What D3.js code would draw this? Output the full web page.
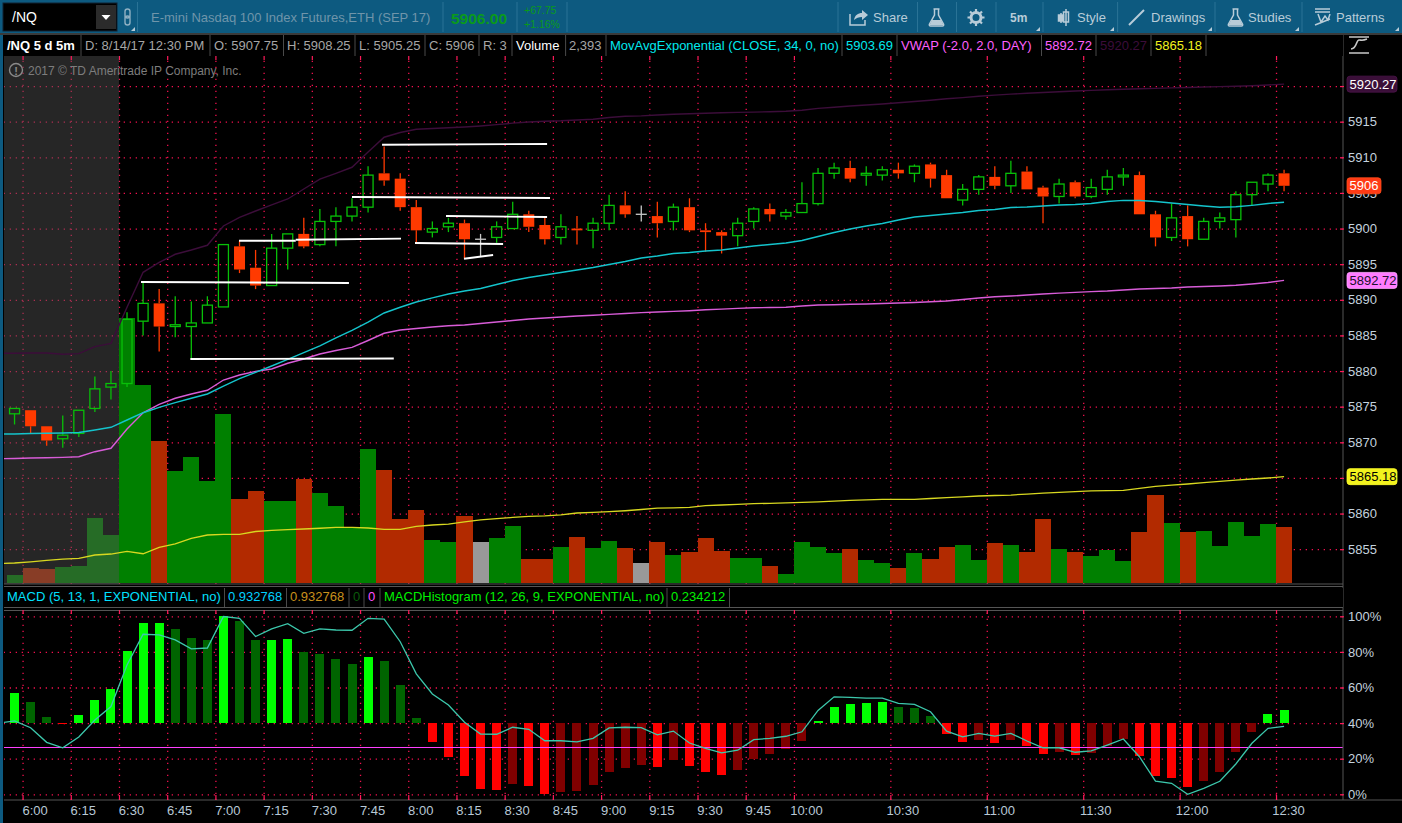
<!DOCTYPE html>
<html>
<head>
<meta charset="utf-8">
<title>/NQ 5 d 5m</title>
<script src="https://cdn.jsdelivr.net/npm/d3@7"></script>
<style>
html, body { margin: 0; padding: 0; background: #000; overflow: hidden; }
svg { display: block; font-family: "Liberation Sans", Arial, sans-serif; }
</style>
</head>
<body>
<svg id="chart" width="1402" height="823"></svg>
<script>
// 5 minute bars, 5:55 to 12:30
var times = ["5:55","6:00","6:05","6:10","6:15","6:20","6:25","6:30","6:35","6:40",
"6:45","6:50","6:55","7:00","7:05","7:10","7:15","7:20","7:25","7:30",
"7:35","7:40","7:45","7:50","7:55","8:00","8:05","8:10","8:15","8:20",
"8:25","8:30","8:35","8:40","8:45","8:50","8:55","9:00","9:05","9:10",
"9:15","9:20","9:25","9:30","9:35","9:40","9:45","9:50","9:55","10:00",
"10:05","10:10","10:15","10:20","10:25","10:30","10:35","10:40","10:45","10:50",
"10:55","11:00","11:05","11:10","11:15","11:20","11:25","11:30","11:35","11:40",
"11:45","11:50","11:55","12:00","12:05","12:10","12:15","12:20","12:25","12:30"];
var timeTicks = ["6:00","6:15","6:30","6:45","7:00","7:15","7:30","7:45","8:00","8:15","8:30","8:45",
"9:00","9:15","9:30","9:45","10:00","10:30","11:00","11:30","12:00","12:30"];
var priceTicks = [5855,5860,5865,5870,5875,5880,5885,5890,5895,5900,5905,5910,5915,5920];
// 5865 and 5920 sit fully behind the last value bubbles
var priceLabelTicks = [5855,5860,5870,5875,5880,5885,5890,5895,5900,5905,5910,5915];
var percentTicks = [0,20,40,60,80,100];

var open = [5874,5874.5,5872.25,5870.5,5871.25,5874.75,5877.75,5878.25,5887,5889.5,
5886.25,5886.25,5886.75,5889,5897.5,5894.5,5892,5897.25,5899.25,5897.75,
5901,5901.75,5903,5907.75,5907,5903,5899.5,5900.25,5900.75,5898.5,
5898.75,5900,5902,5900.5,5898.75,5900,5899.75,5900.75,5903.25,5902,
5901.75,5901,5903,5899.75,5899.5,5899,5901,5902.75,5901.75,5902.25,
5903.5,5907.75,5908.5,5907.5,5907.5,5908.25,5907.75,5909,5907.5,5904,
5905.5,5907.25,5906,5908,5905.75,5904.5,5906.5,5904.5,5905.5,5907.25,
5907.5,5902,5898.75,5901.75,5898.5,5901,5901.25,5904.75,5906.25,5907.75];
var high = [5874.75,5874.5,5872.25,5873.75,5874.5,5879.25,5880,5888.25,5892.5,5891.5,
5890.5,5889.75,5890.5,5897.75,5898.25,5897,5899.25,5899.25,5901.5,5902.75,
5903,5904.25,5908.75,5911.5,5907.75,5904,5901,5901.5,5901.25,5899.25,
5901,5903.75,5902.5,5901.5,5902,5901.75,5901.5,5904.75,5905.25,5903.25,
5903.75,5903.5,5904.25,5900.75,5899.75,5901.5,5903,5903.5,5902.75,5906.5,
5908.5,5909.25,5909.5,5908.75,5908.75,5909.25,5909,5909.25,5908.25,5906.25,
5907.5,5908.75,5909.5,5908.75,5906,5907,5906.75,5907,5908.25,5908.5,
5908,5902.5,5903.5,5903.25,5901.5,5902.25,5905.25,5906.5,5907.75,5908.25];
var low = [5872.5,5871.25,5869.5,5869.25,5870.75,5874.25,5876,5877.75,5885,5882.75,
5884.75,5881.75,5886.75,5889,5893.75,5891.5,5892,5894.25,5897.25,5897.5,
5897.5,5901,5902.25,5906,5902.5,5898,5898.75,5899.5,5895.75,5896,
5898,5900,5899.5,5897.75,5897.75,5897.75,5897.25,5899.75,5901.5,5901,
5898.75,5899.75,5899.5,5896.75,5896.5,5897.5,5900,5901,5901.25,5902.25,
5903.25,5907,5906.5,5906,5906.75,5907,5906.5,5905.75,5904.25,5903.25,
5904.75,5905.5,5905,5905.5,5900.75,5903.5,5904.25,5904.25,5904.75,5906,
5902,5897.5,5898.25,5897.5,5898.5,5900,5898.75,5903.25,5905.25,5905.25];
var close = [5874.75,5872.25,5870.25,5871,5874.5,5877.5,5878.25,5887.25,5889.5,5886.25,
5886.5,5886.75,5889.25,5897.75,5894.25,5892,5897.25,5899.25,5897.5,5901,
5901.75,5903,5907.5,5906.75,5903,5899.75,5900,5900.75,5898.5,5898.5,
5900.25,5902,5900.25,5898.5,5900.25,5899.75,5900.75,5903.25,5902,5902,
5900.75,5903,5899.75,5899.5,5899,5900.75,5902.75,5902,5902.25,5903.5,
5907.75,5908.5,5907,5907.75,5908.25,5907.75,5908.75,5907,5904.25,5905.5,
5907.25,5906,5907.75,5905.5,5904.5,5906.25,5904.5,5905.75,5907.25,5907.5,
5902,5898.75,5901.5,5898.5,5901,5901.5,5904.75,5906.5,5907.5,5906];
var volume = [340,640,600,680,725,2780,2050,11320,8460,6070,
4790,5380,4360,7220,3590,3930,3500,3500,4440,3850,
3290,2390,5730,4830,2730,3120,1840,1750,2860,1750,
1920,2440,1030,1030,1540,1970,1500,1790,1500,855,
1750,1200,1320,1920,1370,1070,1070,725,385,1750,
1540,1280,1450,980,855,640,1280,1030,1540,1620,
980,1710,1620,1320,2730,1450,1320,1150,1410,940,
2180,3760,2560,2180,2220,1580,2600,2010,2520,2393];

// study lines start one bar earlier, that bar is cut off by the left edge
var ema = [5871.15,5871.17,5871.24,5871.26,5871.31,5871.38,5871.73,5872.11,5873.13,5874.15,5874.91,
5875.56,5876.18,5876.78,5877.90,5878.93,5879.82,5880.71,5881.65,5882.58,5883.52,
5884.64,5885.72,5886.88,5888.15,5888.95,5889.69,5890.28,5890.81,5891.24,5891.59,
5892.15,5892.71,5893.13,5893.48,5893.83,5894.18,5894.53,5894.95,5895.38,5895.87,
5896.15,5896.50,5896.64,5896.85,5896.99,5897.27,5897.55,5897.76,5897.97,5898.32,
5898.88,5899.45,5899.94,5900.36,5900.71,5901.20,5901.62,5901.83,5902.04,5902.25,
5902.53,5902.67,5902.95,5903.02,5903.16,5903.30,5903.38,5903.52,5903.80,5903.96,
5903.94,5903.80,5903.59,5903.38,5903.16,5902.98,5903.05,5903.26,5903.52,5903.69];
var vwap = [5867.70,5867.73,5867.80,5867.84,5867.89,5867.98,5868.68,5869.16,5871.87,5874.15,5875.33,
5876.18,5876.78,5877.30,5878.74,5879.45,5879.96,5880.29,5881.09,5881.69,5882.39,
5882.88,5883.33,5884.29,5885.30,5885.76,5885.97,5886.18,5886.35,5886.46,5886.67,
5886.88,5887.09,5887.31,5887.45,5887.59,5887.73,5887.84,5887.95,5888.08,5888.20,
5888.29,5888.37,5888.47,5888.60,5888.69,5888.79,5888.88,5888.92,5888.96,5889.13,
5889.27,5889.31,5889.37,5889.41,5889.48,5889.55,5889.62,5889.72,5889.83,5890.04,
5890.25,5890.42,5890.53,5890.67,5890.81,5890.93,5891.04,5891.15,5891.24,5891.38,
5891.52,5891.59,5891.66,5891.80,5891.87,5891.94,5892.05,5892.22,5892.43,5892.72];
var upperBand = [5882.49,5882.50,5882.53,5882.53,5882.35,5882.44,5883.42,5883.89,5888.95,5893.86,5895.26,
5896.39,5896.99,5897.65,5900.36,5901.58,5902.46,5903.31,5904.15,5905.55,5906.95,
5907.75,5908.60,5910.74,5912.82,5913.48,5913.93,5914.04,5914.15,5914.25,5914.39,
5914.58,5914.79,5914.95,5915.05,5915.12,5915.24,5915.35,5915.59,5915.77,5915.82,
5915.94,5916.05,5916.12,5916.19,5916.25,5916.30,5916.34,5916.40,5916.47,5916.60,
5916.86,5917.03,5917.20,5917.34,5917.48,5917.65,5917.83,5918.01,5918.21,5918.38,
5918.56,5918.72,5918.86,5918.98,5919.09,5919.21,5919.31,5919.40,5919.49,5919.56,
5919.63,5919.68,5919.74,5919.80,5919.87,5919.92,5919.98,5920.05,5920.15,5920.27];
var lowerBand = [5852.96,5853.06,5853.23,5853.44,5853.60,5853.72,5854.18,5854.32,5854.70,5854.36,5855.24,
5855.73,5856.50,5856.99,5857.09,5857.09,5857.48,5857.65,5857.73,5857.83,5857.94,
5858.07,5858.07,5857.97,5857.79,5857.79,5858.21,5858.39,5858.53,5858.82,5859.10,
5859.28,5859.45,5859.59,5859.66,5859.80,5860.08,5860.16,5860.26,5860.39,5860.57,
5860.75,5860.79,5860.86,5861.10,5861.20,5861.30,5861.38,5861.44,5861.49,5861.56,
5861.65,5861.75,5861.85,5861.92,5861.99,5862.00,5862.00,5862.11,5862.24,5862.35,
5862.46,5862.53,5862.60,5862.74,5862.86,5862.98,5863.09,5863.17,5863.21,5863.25,
5863.52,5863.81,5863.98,5864.15,5864.33,5864.51,5864.70,5864.85,5864.99,5865.18];
var macd = [1.08,1.17,.87,.22,-.02,.46,1.21,1.81,3.66,5.02,4.99,
4.77,4.37,4.41,5.81,5.73,4.92,5.26,5.49,5.06,5.26,
5.21,5.20,5.73,5.69,4.69,3.26,2.37,1.88,1.11,.59,
.58,.89,.80,.29,.29,.24,.40,.86,.89,.87,
.55,.72,.19,-.05,-.25,-.13,.34,.40,.49,.69,
1.64,2.24,2.22,2.18,2.18,1.95,1.91,1.58,.72,.46,
.62,.50,.62,.28,-.02,-.02,-.22,-.16,.10,.37,
-.42,-1.50,-1.60,-2.09,-1.82,-1.51,-.74,.18,.84,.932768];
var macdHist = [.54,.38,.11,-.01,.14,.41,.61,1.30,1.80,1.81,
1.69,1.53,1.50,1.93,1.84,1.49,1.50,1.51,1.28,1.24,
1.15,1.06,1.19,1.12,.68,.09,-.34,-.61,-.95,-1.19,
-1.21,-1.10,-1.14,-1.28,-1.24,-1.23,-1.12,-.88,-.81,-.76,
-.79,-.67,-.77,-.88,-.94,-.85,-.65,-.56,-.47,-.32,
.04,.29,.34,.36,.37,.29,.27,.13,-.20,-.34,
-.31,-.36,-.31,-.41,-.56,-.52,-.58,-.54,-.41,-.29,
-.59,-.95,-.99,-1.15,-1.05,-.88,-.52,-.16,.16,.234212];

// hand drawn trend lines: bar number and price at each end
var drawnFromBar = [22.87,21,13.97,17.5,7.87,10.94,24.92,26.85,27.97];
var drawnFromPrice = [5911.77,5904.43,5898.29,5898.43,5892.5,5881.69,5897.97,5901.76,5895.77];
var drawnToBar = [33.14,33.32,17.5,24.05,20.81,23.6,30.4,33.14,29.78];
var drawnToPrice = [5911.87,5904.29,5898.29,5898.58,5892.36,5881.76,5897.83,5901.62,5896.29];

var lastBar = {vwap: 5892.72, upper: 5920.27, lower: 5865.18, close: 5906};

var plotLeft = 4, plotRight = 1343, mainTop = 56, mainBottom = 584, macdTop = 611, macdBottom = 800;
var green = "#08c008", red = "#ff3a00", grid = "#f0104e";

var svg = d3.select("#chart");
var defs = svg.append("defs");
defs.append("clipPath").attr("id", "mainClip").append("rect")
  .attr("x", plotLeft).attr("y", mainTop).attr("width", plotRight - plotLeft).attr("height", mainBottom - mainTop);
defs.append("clipPath").attr("id", "macdClip").append("rect")
  .attr("x", plotLeft).attr("y", macdTop).attr("width", plotRight - plotLeft).attr("height", macdBottom - macdTop);

var allTimes = ["5:50"].concat(times);
var x = d3.scaleBand().domain(allTimes).range([-9.57, 1292.1]);
function cx(t) { return x(t) + x.bandwidth() / 2; }
function barX(i) { return x(times[0]) + x.bandwidth() / 2 + i * x.step(); }
var y = d3.scaleLinear().domain([5870, 5910]).range([442.3, 157.3]);
var yVol = d3.scaleLinear().domain([0, 2393]).range([583, 527]);
var yPct = d3.scaleLinear().domain([0, 100]).range([794.3, 616.3]);
var yMacd = d3.scaleLinear().domain([0, 0.932768]).range([747.3, 726.3]);
var yHist = d3.scaleLinear().domain([0, 0.234212]).range([723, 710]);

function text(g, px, py, s, fill, size, opts) {
  opts = opts || {};
  return g.append("text").attr("x", px).attr("y", py).text(s).attr("fill", fill)
    .attr("font-size", size).attr("font-weight", opts.bold ? "bold" : null)
    .attr("text-anchor", opts.anchor || null);
}

// ---- grids
function styleGrid(g) {
  g.select(".domain").remove();
  g.selectAll("text").remove();
  g.selectAll("line").attr("stroke", grid).attr("stroke-width", 1.3).attr("stroke-dasharray", "1.3,4.7");
}
// ticks sit on the left edge of a bar, so the axes get the band edge and not its middle
var timeAxisScale = function(t) { return x(t); };
timeAxisScale.domain = function() { return timeTicks; };
timeAxisScale.range = function() { return [plotLeft, plotRight]; };
timeAxisScale.copy = function() { return timeAxisScale; };

svg.append("g").attr("transform", "translate(0," + mainBottom + ")")
  .call(d3.axisBottom(timeAxisScale).tickValues(timeTicks).tickSize(-(mainBottom - mainTop)).tickSizeOuter(0)).call(styleGrid);
svg.append("g").attr("transform", "translate(0," + macdBottom + ")")
  .call(d3.axisBottom(timeAxisScale).tickValues(timeTicks).tickSize(-(macdBottom - macdTop)).tickSizeOuter(0)).call(styleGrid);
svg.append("g").attr("transform", "translate(" + plotRight + ",0)")
  .call(d3.axisLeft(y).tickValues(priceTicks).tickSize(plotRight - plotLeft).tickSizeOuter(0)).call(styleGrid);
svg.append("g").attr("transform", "translate(" + plotRight + ",0)")
  .call(d3.axisLeft(yPct).tickValues(percentTicks).tickSize(plotRight - plotLeft).tickSizeOuter(0)).call(styleGrid);

// ---- volume
var main = svg.append("g").attr("clip-path", "url(#mainClip)");
function barColor(i) {
  if (close[i] > open[i]) return "#008000";
  if (close[i] < open[i]) return "#b22a00";
  return "#999999";
}
main.append("g").attr("shape-rendering", "crispEdges").selectAll("rect").data(times).enter().append("rect")
  .attr("x", function(d) { return x(d); })
  .attr("y", function(d, i) { return yVol(volume[i]); })
  .attr("width", x.bandwidth())
  .attr("height", function(d, i) { return yVol(0) - yVol(volume[i]); })
  .attr("fill", function(d, i) { return barColor(i); });

// expansion area shade sits over the volume bars
main.append("rect").attr("x", plotLeft).attr("y", mainTop)
  .attr("width", x("6:30") - plotLeft).attr("height", mainBottom - mainTop)
  .attr("fill", "rgb(84,84,84)").attr("fill-opacity", 0.45);

// ---- candles
var candles = main.append("g").selectAll("g").data(times).enter().append("g");
candles.each(function(d, i) {
  var g = d3.select(this), c = cx(d);
  var up = close[i] > open[i], flat = close[i] === open[i];
  var col = flat ? "#c8c8c8" : (up ? green : red);
  var bodyTop = y(Math.max(open[i], close[i])), bodyBottom = y(Math.min(open[i], close[i]));
  g.append("line").attr("x1", c).attr("x2", c).attr("y1", y(high[i])).attr("y2", bodyTop)
    .attr("stroke", col).attr("stroke-width", 1.3);
  g.append("line").attr("x1", c).attr("x2", c).attr("y1", bodyBottom).attr("y2", y(low[i]))
    .attr("stroke", col).attr("stroke-width", 1.3);
  if (flat) {
    g.append("line").attr("x1", c - 5.5).attr("x2", c + 5.5).attr("y1", bodyTop).attr("y2", bodyTop)
      .attr("stroke", col).attr("stroke-width", 1.3);
  } else if (up) {
    g.append("rect").attr("x", c - 5).attr("y", bodyTop).attr("width", 10).attr("height", bodyBottom - bodyTop)
      .attr("fill", "none").attr("stroke", col).attr("stroke-width", 1.3);
  } else {
    g.append("rect").attr("x", c - 5.5).attr("y", bodyTop).attr("width", 11).attr("height", bodyBottom - bodyTop)
      .attr("fill", col);
  }
});

// ---- price studies
function studyLine(g, values, scale, color, width) {
  var line = d3.line().x(function(d, i) { return cx(allTimes[i]); }).y(function(d) { return scale(d); });
  g.append("path").datum(values).attr("d", line).attr("fill", "none")
    .attr("stroke", color).attr("stroke-width", width);
}
studyLine(main, upperBand, y, "#3c0d3a", 1.4);
studyLine(main, lowerBand, y, "#d8d820", 1.3);
studyLine(main, vwap, y, "#d85cd8", 1.4);
studyLine(main, ema, y, "#14c4cc", 1.4);

// ---- drawings
main.append("g").selectAll("line").data(drawnFromBar).enter().append("line")
  .attr("x1", function(d) { return barX(d); })
  .attr("y1", function(d, i) { return y(drawnFromPrice[i]); })
  .attr("x2", function(d, i) { return barX(drawnToBar[i]); })
  .attr("y2", function(d, i) { return y(drawnToPrice[i]); })
  .attr("stroke", "#ffffff").attr("stroke-width", 1.9);

// ---- macd panel
var lower = svg.append("g").attr("clip-path", "url(#macdClip)");
function histColor(i) {
  var prev = i > 0 ? macdHist[i - 1] : 0, v = macdHist[i];
  if (v >= 0) return v > prev ? "#00ff00" : "#006400";
  return v < prev ? "#ff0000" : "#800000";
}
lower.append("g").attr("shape-rendering", "crispEdges").selectAll("rect").data(times).enter().append("rect")
  .attr("x", function(d) { return cx(d) - 4.5; })
  .attr("y", function(d, i) { return Math.min(yHist(0), yHist(macdHist[i])); })
  .attr("width", 9)
  .attr("height", function(d, i) { return Math.max(1, Math.abs(yHist(macdHist[i]) - yHist(0))); })
  .attr("fill", function(d, i) { return histColor(i); });
lower.append("line").attr("x1", plotLeft).attr("x2", plotRight).attr("y1", yMacd(0)).attr("y2", yMacd(0))
  .attr("stroke", "#ff40ff").attr("stroke-width", 1.1).attr("shape-rendering", "crispEdges");
studyLine(lower, macd, yMacd, "#3cc8ac", 1.3);

// ---- frame and axes
var frame = svg.append("g").attr("stroke", "#555").attr("fill", "none");
frame.append("line").attr("x1", plotRight).attr("x2", plotRight).attr("y1", 34).attr("y2", macdBottom);
frame.append("line").attr("x1", plotLeft).attr("x2", plotRight).attr("y1", 584).attr("y2", 584);
frame.append("line").attr("x1", plotLeft).attr("x2", plotRight).attr("y1", 586.5).attr("y2", 586.5);
frame.append("line").attr("x1", plotLeft).attr("x2", plotRight).attr("y1", 607.5).attr("y2", 607.5);
frame.append("line").attr("x1", plotLeft).attr("x2", plotRight).attr("y1", macdTop - .5).attr("y2", macdTop - .5);
frame.append("line").attr("x1", plotLeft).attr("x2", 1402).attr("y1", macdBottom).attr("y2", macdBottom);

function styleValueAxis(g) {
  g.select(".domain").remove();
  g.selectAll("line").attr("stroke", "#ff1a5a").attr("stroke-width", 1.2);
  g.selectAll("text").attr("fill", "#c4d2de").attr("font-size", 13)
    .attr("font-family", '"Liberation Sans", Arial, sans-serif');
}
svg.append("g").attr("transform", "translate(" + (plotRight + 1) + ",0)")
  .call(d3.axisRight(y).tickValues(priceTicks).tickSize(-4).tickSizeOuter(0).tickFormat(function() { return ""; }))
  .call(styleValueAxis);
svg.append("g").attr("transform", "translate(" + (plotRight + 1) + ",0)")
  .call(d3.axisRight(y).tickValues(priceLabelTicks).tickSize(0).tickSizeOuter(0).tickFormat(d3.format("d")))
  .call(styleValueAxis).selectAll("text").attr("x", 4);
svg.append("g").attr("transform", "translate(" + (plotRight + 1) + ",0)")
  .call(d3.axisRight(yPct).tickValues(percentTicks).tickSize(-4).tickSizeOuter(0).tickFormat(function(d) { return d + "%"; }))
  .call(styleValueAxis).selectAll("text").attr("x", 4);

function shortMarks(g) {
  g.select(".domain").remove();
  g.selectAll("line").attr("stroke", "#ff1a5a").attr("stroke-width", 1.2);
  g.selectAll("text").remove();
}
svg.append("g").attr("transform", "translate(0," + (mainTop + 4) + ")")
  .call(d3.axisBottom(timeAxisScale).tickValues(timeTicks).tickSize(-4).tickSizeOuter(0)).call(shortMarks);
svg.append("g").attr("transform", "translate(0," + (macdTop + 3) + ")")
  .call(d3.axisBottom(timeAxisScale).tickValues(timeTicks).tickSize(-4).tickSizeOuter(0)).call(shortMarks);
var timeAxis = svg.append("g").attr("transform", "translate(0," + macdBottom + ")")
  .call(d3.axisBottom(timeAxisScale).tickValues(timeTicks).tickSize(-5).tickPadding(6).tickSizeOuter(0));
timeAxis.select(".domain").remove();
timeAxis.selectAll("line").attr("stroke", "#ff1a5a").attr("stroke-width", 1.2);
timeAxis.selectAll("text").attr("dx", 12).attr("fill", "#b8c8d6").attr("font-size", 13)
  .attr("font-family", '"Liberation Sans", Arial, sans-serif');

// last value bubbles
function bubble(price, label, fill, color, width) {
  var g = svg.append("g");
  g.append("rect").attr("x", plotRight + 4).attr("y", y(price) - 8).attr("width", width).attr("height", 16)
    .attr("rx", 3).attr("fill", fill).attr("stroke", d3.color(fill).brighter(0.8)).attr("stroke-width", .8);
  text(g, plotRight + 6.5, y(price) + 4.5, label, color, 13);
}
bubble(lastBar.upper, "5920.27", "#3a0f38", "#ffffff", 50);
bubble(lastBar.lower, "5865.18", "#f2f21e", "#000000", 50);
bubble(lastBar.vwap, "5892.72", "#ff7cff", "#20102a", 50);
bubble(lastBar.close, "5906", "#ff3a14", "#ffffff", 34);

// ---- legend rows
function legendRow(top, bottom, seps, items, endX) {
  var g = svg.append("g");
  g.append("rect").attr("x", plotLeft).attr("y", top).attr("width", endX - plotLeft).attr("height", bottom - top).attr("fill", "#000");
  g.append("g").selectAll("line").data(seps).enter().append("line")
    .attr("x1", function(d) { return d; }).attr("x2", function(d) { return d; })
    .attr("y1", top).attr("y2", bottom).attr("stroke", "#4a4a4a");
  items.forEach(function(t) { text(g, t[0], bottom - 6, t[1], t[2], 13, {bold: t[3]}); });
}
legendRow(34.5, 56, [81,210,283.5,355,425,479,512,565.6,606,842,897,1041.5,1096,1151,1206], [
  [7, "/NQ 5 d 5m", "#ffffff", true],
  [85, "D: 8/14/17 12:30 PM", "#a6a6a6"],
  [214, "O: 5907.75", "#a6a6a6"],
  [287, "H: 5908.25", "#a6a6a6"],
  [359, "L: 5905.25", "#a6a6a6"],
  [429, "C: 5906", "#a6a6a6"],
  [483, "R: 3", "#a6a6a6"],
  [516, "Volume", "#ffffff"],
  [569, "2,393", "#a6a6a6"],
  [610, "MovAvgExponential (CLOSE, 34, 0, no)", "#00e8ee"],
  [846, "5903.69", "#00e8ee"],
  [901, "VWAP (-2.0, 2.0, DAY)", "#ff60ff"],
  [1045, "5892.72", "#ff60ff"],
  [1100, "5920.27", "#3c0d3a"],
  [1155, "5865.18", "#f2f21e"]
], 1343);
legendRow(588, 607, [224.5,286.5,349,364,380,667,729.5], [
  [7, "MACD (5, 13, 1, EXPONENTIAL, no)", "#00e0ff"],
  [228, "0.932768", "#00d0ff"],
  [290, "0.932768", "#c8901c"],
  [353, "0", "#0a5a0a"],
  [368, "0", "#ff50ff"],
  [384, "MACDHistogram (12, 26, 9, EXPONENTIAL, no)", "#00f000"],
  [671, "0.234212", "#00f000"]
], 1343);

// copyright note
var note = svg.append("g");
note.append("circle").attr("cx", 16).attr("cy", 70).attr("r", 6.5).attr("fill", "none").attr("stroke", "#8a8a8a").attr("stroke-width", 1.4);
text(note, 16, 74.5, "!", "#8a8a8a", 11, {bold: true, anchor: "middle"});
text(note, 28, 75, "2017 \u00a9 TD Ameritrade IP Company, Inc.", "#7d7d7d", 12);

// ---- toolbar
var bar = svg.append("g");
bar.append("rect").attr("width", 1402).attr("height", 33).attr("fill", "#0d5a80");
bar.append("rect").attr("y", 33).attr("width", 1402).attr("height", 2).attr("fill", "#3a3a3a");
bar.append("rect").attr("y", 35).attr("width", 3).attr("height", 788).attr("fill", "#0d5a80");
bar.append("rect").attr("x", 3).attr("y", 3).attr("width", 114).attr("height", 28).attr("fill", "#000").attr("stroke", "#123");
bar.append("rect").attr("x", 96).attr("y", 5).attr("width", 20).attr("height", 24).attr("fill", "#2b2b2b");
bar.append("path").attr("d", "M101.5 15h9l-4.5 5z").attr("fill", "#fff");
text(bar, 12, 22, "/NQ", "#ffffff", 14);
bar.append("rect").attr("x", 125).attr("y", 9).attr("width", 5).attr("height", 9).attr("rx", 2.5).attr("fill", "none").attr("stroke", "#8fb0c2").attr("stroke-width", 1.4);
bar.append("rect").attr("x", 125).attr("y", 16).attr("width", 5).attr("height", 9).attr("rx", 2.5).attr("fill", "none").attr("stroke", "#8fb0c2").attr("stroke-width", 1.4);
text(bar, 151, 22, "E-mini Nasdaq 100 Index Futures,ETH (SEP 17)", "#6f95aa", 13);
text(bar, 451, 24, "5906.00", "#0a9a1a", 15.5, {bold: true});
text(bar, 524, 14, "+67.75", "#0a9a1a", 10.5);
text(bar, 524, 28, "+1.16%", "#0a9a1a", 10.5);

var barSeps = [137.5,443,517,567,838,917.5,956.5,996,1043,1117.6,1215,1302];
bar.append("g").selectAll("line").data(barSeps).enter().append("line")
  .attr("x1", function(d) { return d; }).attr("x2", function(d) { return d; })
  .attr("y1", 2).attr("y2", 32).attr("stroke", "#2a7396");

var btnCol = "#b8ccd8";
text(bar, 873, 22, "Share", btnCol, 13);
text(bar, 1010, 22, "5m", btnCol, 12, {bold: true});
text(bar, 1077, 22, "Style", btnCol, 13);
text(bar, 1151, 22, "Drawings", btnCol, 13);
text(bar, 1248, 22, "Studies", btnCol, 13);
text(bar, 1336, 22, "Patterns", btnCol, 13);

var icons = bar.append("g").attr("fill", "none").attr("stroke", btnCol).attr("stroke-width", 1.5);
icons.append("path").attr("d", "M850 14v11h15v-5");
icons.append("path").attr("d", "M854 20c1-5 4-7 8-7v-3l6 5-6 5v-3c-3 0-6 1-8 3z").attr("fill", btnCol).attr("stroke", "none");
function flask(ox) {
  icons.append("path").attr("d", "M" + (ox - 3) + " 9h6M" + (ox - 2) + " 9v6l-5 9c-.5 1 0 2 1 2h12c1 0 1.5-1 1-2l-5-9v-6");
  icons.append("path").attr("d", "M" + (ox - 4.5) + " 20h9l2.5 5h-14z").attr("fill", btnCol).attr("stroke", "none");
}
flask(936.5);
flask(1235.5);
icons.append("circle").attr("cx", 976).attr("cy", 17.5).attr("r", 5).attr("stroke-width", 3);
icons.append("path").attr("d", "M976 9v3M976 23v3M967.5 17.5h3M981.5 17.5h3M970 11.5l2 2M980 21.5l2 2M970 23.5l2-2M980 13.5l2-2").attr("stroke-width", 2.2);
icons.append("path").attr("d", "M1061 13v10M1066 9v17");
icons.append("rect").attr("x", 1058.5).attr("y", 15).attr("width", 5).attr("height", 6).attr("fill", btnCol);
icons.append("rect").attr("x", 1063.5).attr("y", 12).attr("width", 5).attr("height", 10);
icons.append("path").attr("d", "M1129 25l15-15").attr("stroke-width", 2);
icons.append("path").attr("d", "M1315 9h15M1315 12h15M1318 14l3 8 4-6 3 4 2-6M1315 25l15-6");

bar.append("g").selectAll("path").data([135,1040,1114,1212,1299,1399]).enter().append("path")
  .attr("d", function(d) { return "M" + d + " 31v-4l-4 4z"; }).attr("fill", btnCol);

// study icon on the right of the legend row
var sw = svg.append("g").attr("stroke", "#c8c8c8").attr("fill", "none").attr("stroke-width", 1.6);
sw.append("path").attr("d", "M1349 37h20M1349 53h20M1351 49c6 0 5-9 8-9 3 0 3 1 8-1");
</script>
</body>
</html>
